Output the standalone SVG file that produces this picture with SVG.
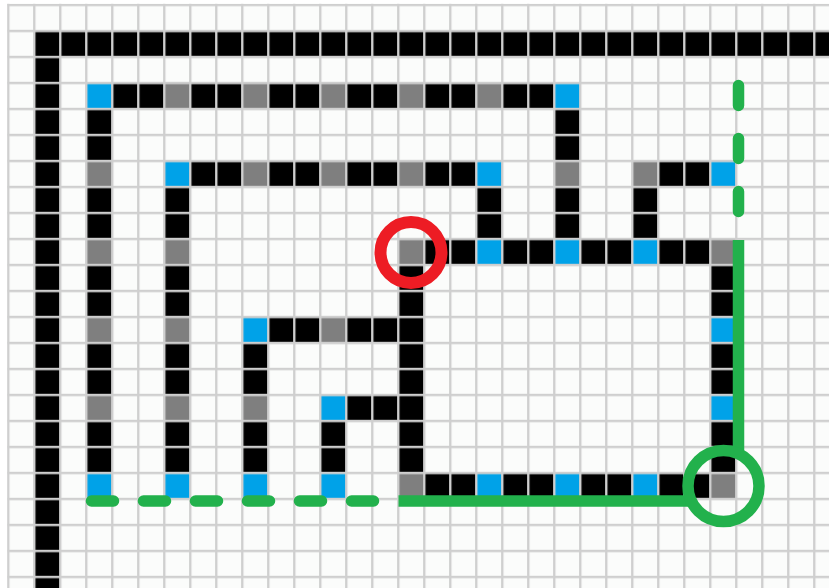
<svg xmlns="http://www.w3.org/2000/svg" width="829" height="588" viewBox="0 0 829 588">
<style>
.k{fill:#000}
.g{fill:#7f7f7f}
.b{fill:#00a2e8}
.gl{fill:#cfcfcf}
.grn{fill:none;stroke:#22b14c;stroke-width:11.5}
.dsh{stroke-linecap:round}
</style>
<defs>
<pattern id="grid" patternUnits="userSpaceOnUse" x="7.1" y="3.8" width="26" height="26">
<rect class="gl" x="0" y="0" width="26" height="2.4"/>
<rect class="gl" x="0" y="0" width="2.4" height="26"/>
</pattern>
</defs>
<rect width="829" height="588" fill="#ffffff"/>
<rect x="7.1" y="3.8" width="822" height="585" fill="#fbfcfb"/>
<g id="cells" transform="translate(8.3 5) scale(26)">
<g id="outer-wall">
<rect class="k" x="1" y="1" width="31" height="1"/>
<rect class="k" x="1" y="1" width="1" height="22"/>
</g>
<g id="path-a">
<rect class="k" x="3" y="3" width="19" height="1"/>
<rect class="k" x="3" y="3" width="1" height="16"/>
<rect class="k" x="21" y="3" width="1" height="7"/>
<rect class="b" x="3" y="3" width="1" height="1"/>
<rect class="b" x="21" y="3" width="1" height="1"/>
<rect class="b" x="3" y="18" width="1" height="1"/>
<rect class="g" x="6" y="3" width="1" height="1"/>
<rect class="g" x="9" y="3" width="1" height="1"/>
<rect class="g" x="12" y="3" width="1" height="1"/>
<rect class="g" x="15" y="3" width="1" height="1"/>
<rect class="g" x="18" y="3" width="1" height="1"/>
<rect class="g" x="3" y="6" width="1" height="1"/>
<rect class="g" x="3" y="9" width="1" height="1"/>
<rect class="g" x="3" y="12" width="1" height="1"/>
<rect class="g" x="3" y="15" width="1" height="1"/>
<rect class="g" x="21" y="6" width="1" height="1"/>
</g>
<g id="path-b">
<rect class="k" x="6" y="6" width="13" height="1"/>
<rect class="k" x="6" y="6" width="1" height="13"/>
<rect class="k" x="18" y="6" width="1" height="4"/>
<rect class="b" x="6" y="6" width="1" height="1"/>
<rect class="b" x="18" y="6" width="1" height="1"/>
<rect class="b" x="6" y="18" width="1" height="1"/>
<rect class="g" x="9" y="6" width="1" height="1"/>
<rect class="g" x="12" y="6" width="1" height="1"/>
<rect class="g" x="15" y="6" width="1" height="1"/>
<rect class="g" x="6" y="9" width="1" height="1"/>
<rect class="g" x="6" y="12" width="1" height="1"/>
<rect class="g" x="6" y="15" width="1" height="1"/>
</g>
<g id="path-c">
<rect class="k" x="24" y="6" width="4" height="1"/>
<rect class="k" x="24" y="6" width="1" height="4"/>
<rect class="g" x="24" y="6" width="1" height="1"/>
<rect class="b" x="27" y="6" width="1" height="1"/>
</g>
<g id="loop">
<rect class="k" x="15" y="9" width="13" height="1"/>
<rect class="k" x="15" y="18" width="13" height="1"/>
<rect class="k" x="15" y="9" width="1" height="10"/>
<rect class="k" x="27" y="9" width="1" height="10"/>
<rect class="g" x="15" y="9" width="1" height="1"/>
<rect class="g" x="27" y="9" width="1" height="1"/>
<rect class="g" x="15" y="18" width="1" height="1"/>
<rect class="g" x="27" y="18" width="1" height="1"/>
<rect class="b" x="18" y="9" width="1" height="1"/>
<rect class="b" x="21" y="9" width="1" height="1"/>
<rect class="b" x="24" y="9" width="1" height="1"/>
<rect class="b" x="18" y="18" width="1" height="1"/>
<rect class="b" x="21" y="18" width="1" height="1"/>
<rect class="b" x="24" y="18" width="1" height="1"/>
<rect class="b" x="15" y="12" width="1" height="1"/>
<rect class="b" x="15" y="15" width="1" height="1"/>
<rect class="b" x="27" y="12" width="1" height="1"/>
<rect class="b" x="27" y="15" width="1" height="1"/>
</g>
<g id="path-d">
<rect class="k" x="9" y="12" width="7" height="1"/>
<rect class="k" x="9" y="12" width="1" height="7"/>
<rect class="b" x="9" y="12" width="1" height="1"/>
<rect class="g" x="12" y="12" width="1" height="1"/>
<rect class="g" x="9" y="15" width="1" height="1"/>
<rect class="b" x="9" y="18" width="1" height="1"/>
</g>
<g id="path-e">
<rect class="k" x="12" y="15" width="4" height="1"/>
<rect class="k" x="12" y="15" width="1" height="4"/>
<rect class="b" x="12" y="15" width="1" height="1"/>
<rect class="b" x="12" y="18" width="1" height="1"/>
</g>
</g>
<rect x="7.1" y="3.8" width="822" height="585" fill="url(#grid)"/>
<g id="connectors">
<path class="grn dsh" d="M91.5 501 H373.5" stroke-dasharray="22 30"/>
<path class="grn dsh" d="M738.5 85.5 V211.5" stroke-dasharray="20 33"/>
<path class="grn" d="M398.5 501 H690" stroke-linecap="butt"/>
<path class="grn" d="M738.5 240 V455"/>
<circle class="grn" cx="723.5" cy="486" r="35.5" stroke-width="11"/>
<circle cx="411" cy="252.5" r="30.5" fill="none" stroke="#ed1c24" stroke-width="12"/>
</g>
</svg>
